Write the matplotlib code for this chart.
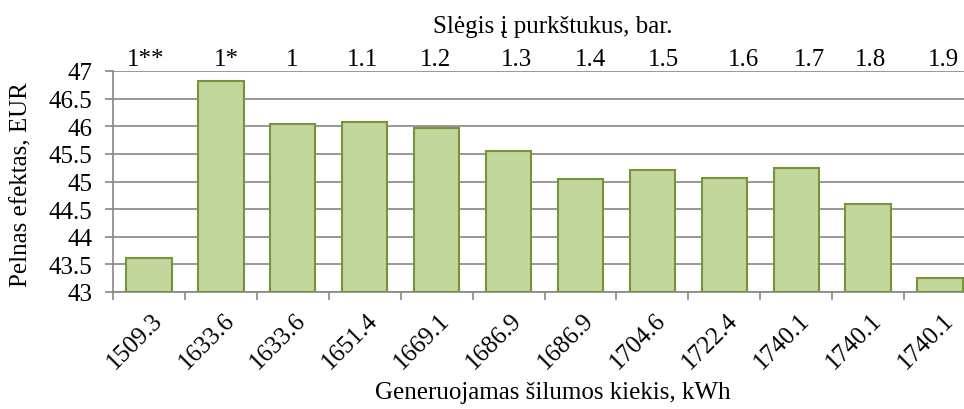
import numpy as np
import matplotlib
matplotlib.use("Agg")
from matplotlib import pyplot as plt

# generated heat (bottom axis), pressure (top axis), profit (bars)
heat_labels = ['1509.3', '1633.6', '1633.6', '1651.4', '1669.1', '1686.9',
               '1686.9', '1704.6', '1722.4', '1740.1', '1740.1', '1740.1']
pressure_labels = ['1**', '1*', '1', '1.1', '1.2', '1.3',
                   '1.4', '1.5', '1.6', '1.7', '1.8', '1.9']
profit = [43.62, 46.81, 46.04, 46.08, 45.96, 45.55,
          45.05, 45.21, 45.06, 45.24, 44.59, 43.25]

plt.rcParams['font.family'] = ['Liberation Serif', 'DejaVu Serif']
plt.rcParams['font.size'] = 18

W, H = 964, 410
fig = plt.figure(figsize=(W / 100, H / 100), dpi=100)
# plot area in pixels (right edge runs past the picture, as in the original)
x0, x1, ytop, ybot = 113, 976, 72, 293
ax = fig.add_axes([x0 / W, 1 - ybot / H, (x1 - x0) / W, (ybot - ytop) / H])

grid_c = '#868686'
x = np.arange(len(profit))
ax.bar(x, np.array(profit) - 43, bottom=43, width=0.63,
       color='#c3d69b', edgecolor='#77933c', linewidth=1.5, zorder=3)

ax.set_xlim(-0.5, len(profit) - 0.5)
ax.set_ylim(43, 47)
ax.set_yticks(np.arange(43, 47.01, 0.5))
ax.set_yticklabels(['43', '43.5', '44', '44.5', '45', '45.5', '46', '46.5', '47'])
ax.yaxis.grid(True, color=grid_c, linewidth=1.2, zorder=0)
ax.set_axisbelow(True)
for s in ['top', 'right']:
    ax.spines[s].set_visible(False)
for s in ['left', 'bottom']:
    ax.spines[s].set_color(grid_c)
    ax.spines[s].set_linewidth(1.2)
ax.tick_params(axis='y', length=6, color=grid_c, width=1.2, pad=9)

# bottom axis: labels at centres, tick marks at category borders
ax.set_xticks(x + 0.03)
ax.set_xticklabels(heat_labels)
ax.set_xticks(np.arange(-0.5, len(profit), 1), minor=True)
ax.tick_params(axis='x', which='major', length=0, pad=12)
ax.tick_params(axis='x', which='minor', length=6, color=grid_c, width=1.2)
plt.setp(ax.get_xticklabels(), rotation=45, ha='right', va='top',
         rotation_mode='anchor')

# top axis: pressure
shift = np.array([-3, 5, -1, -2, -1, 8, 10, 11, 19, 13, 2, 3]) / 72.0
top = ax.secondary_xaxis('top')
top.set_xticks(x + shift)
top.set_xticklabels(pressure_labels)
top.tick_params(length=0, pad=1)
top.spines['top'].set_visible(False)

fig.text(553 / W, 1 - 27 / H, 'Slėgis į purkštukus, bar.', ha='center', va='center')
fig.text(553 / W, 1 - 393 / H, 'Generuojamas šilumos kiekis, kWh', ha='center', va='center')
fig.text(21 / W, 1 - 185 / H, 'Pelnas efektas, EUR', ha='center', va='center', rotation=90)

fig.savefig('out.png', dpi=100)
